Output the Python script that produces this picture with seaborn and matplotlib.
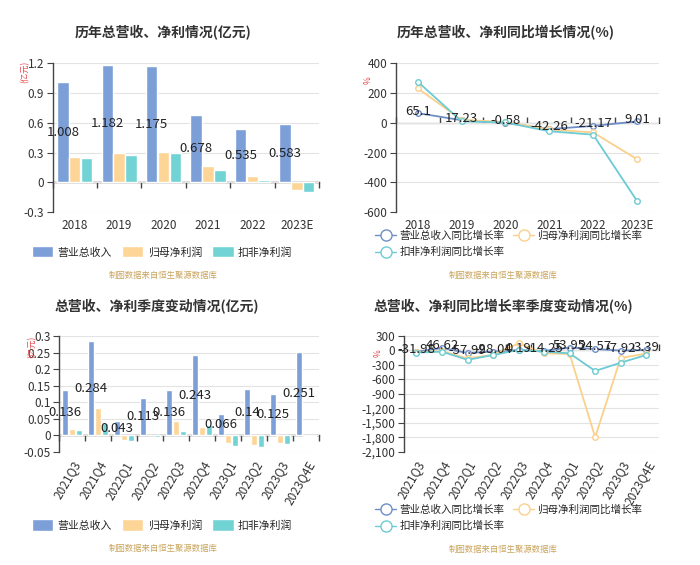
import numpy as np
import pandas as pd
import seaborn as sns
import matplotlib.pyplot as plt
from matplotlib.patches import Patch
from matplotlib.lines import Line2D
from matplotlib.ticker import FuncFormatter

# 数据
years = ['2018', '2019', '2020', '2021', '2022', '2023E']
rev_year = [1.008, 1.182, 1.175, 0.678, 0.535, 0.583]
np_year = [0.25, 0.296, 0.306, 0.162, 0.06, -0.081]
kf_year = [0.24, 0.273, 0.30, 0.121, 0.02, -0.098]

rev_yoy = [65.1, 17.23, -0.58, -42.26, -21.17, 9.01]
np_yoy = [232, 20, 5, -45, -65, -245]
kf_yoy = [277, 10, 2, -57, -80, -526]

quarters = ['2021Q3', '2021Q4', '2022Q1', '2022Q2', '2022Q3',
            '2022Q4', '2023Q1', '2023Q2', '2023Q3', '2023Q4E']
rev_q = [0.136, 0.284, 0.043, 0.113, 0.136, 0.243, 0.066, 0.14, 0.125, 0.251]
np_q = [0.018, 0.082, -0.014, 0.001, 0.043, 0.026, -0.024, -0.029, -0.024, -0.001]
kf_q = [0.015, 0.038, -0.016, -0.005, 0.014, 0.031, -0.032, -0.034, -0.026, -0.003]

rev_q_yoy = [-31.98, 46.62, -57.99, -28.04, 0.19, -14.25, 53.95, 24.57, -7.92, 3.39]
np_q_yoy = [-40, -20, -170, -95, 140, -65, -80, -1800, -160, -70]
kf_q_yoy = [-50, -30, -200, -100, 5, -30, -65, -430, -258, -100]

bar_names = ['营业总收入', '归母净利润', '扣非净利润']
line_names = ['营业总收入同比增长率', '归母净利润同比增长率', '扣非净利润同比增长率']
bar_colors = ['#7c9fd8', '#fdd597', '#72d3d4']
line_colors = ['#6f8ec8', '#fbd08c', '#6ccbd3']

sns.set_style('white')
plt.rcParams['font.family'] = ['Noto Sans CJK SC', 'DejaVu Sans']
plt.rcParams['axes.unicode_minus'] = False

W, H = 700, 565
fig = plt.figure(figsize=(7, 5.65), dpi=100)


def make_ax(x0, y0, x1, y1):
    return fig.add_axes([x0 / W, 1 - y1 / H, (x1 - x0) / W, (y1 - y0) / H])


def style_ax(ax, n, ylim, yticks, fmt, rot=0):
    ax.set_xlim(-0.5, n - 0.5)
    ax.set_ylim(*ylim)
    ax.set_yticks(yticks)
    ax.yaxis.set_major_formatter(FuncFormatter(fmt))
    ax.grid(axis='y', color='#e3e3e3', lw=0.8)
    ax.grid(axis='x', visible=False)
    ax.set_axisbelow(True)
    for s in ['top', 'right', 'bottom']:
        ax.spines[s].set_visible(False)
    ax.spines['left'].set_color('#444')
    ax.spines['left'].set_linewidth(1)
    ax.tick_params(axis='y', length=4, color='#444', labelsize=8.5,
                   labelcolor='#333', left=True, pad=2)
    ax.tick_params(axis='x', length=0, labelsize=8.5, labelcolor='#333', pad=5)
    ax.set_xlabel('')
    ax.set_ylabel('')
    if rot:
        plt.setp(ax.get_xticklabels(), rotation=rot, ha='right',
                 rotation_mode='anchor')
    # 零轴及分隔刻度
    frac = (0 - ylim[0]) / (ylim[1] - ylim[0])
    sec = ax.secondary_xaxis(frac)
    sec.set_xticks(np.arange(n + 1) - 0.5, labels=[])
    sec.tick_params(length=4, color='#444', width=1)
    sec.spines['bottom'].set_color('#444')
    sec.spines['bottom'].set_linewidth(1)


def bar_panel(ax, cats, rev, npr, kf):
    n = len(cats)
    df = pd.DataFrame({'period': cats * 3,
                       'value': rev + npr + kf,
                       'series': [bar_names[0]] * n + [bar_names[1]] * n + [bar_names[2]] * n})
    sns.barplot(data=df, x='period', y='value', hue='series', palette=bar_colors,
                saturation=1, width=0.8, gap=0.03, legend=False, errorbar=None, ax=ax)
    ax.bar_label(ax.containers[0], labels=[f'{v:g}' for v in rev],
                 label_type='center', fontsize=9.5, color='#222')


def line_panel(ax, cats, rev, npr, kf):
    for vals, c in zip([rev, npr, kf], line_colors):
        sns.lineplot(x=cats, y=vals, color=c, marker='o', markersize=4,
                     markerfacecolor='white', markeredgecolor=c, markeredgewidth=1,
                     linewidth=1.3, sort=False, ax=ax)
    for i, v in enumerate(rev):
        ax.annotate(f'{v:g}', (i, v), xytext=(0, 1.5), textcoords='offset points',
                    ha='center', va='center', fontsize=9.5, color='#222')


def bar_legend(ax, xc, yc):
    handles = [Patch(facecolor=c, label=l) for c, l in zip(bar_colors, bar_names)]
    ax.legend(handles=handles, loc='center', bbox_to_anchor=(xc / W, 1 - yc / H),
              bbox_transform=fig.transFigure, ncol=3, frameon=False, fontsize=7.8,
              handlelength=2.0, handleheight=1.2, handletextpad=0.4,
              columnspacing=0.9)


def line_legend(ax, x0, ytop):
    h = [Line2D([0], [0], color=c, marker='o', markersize=8, markerfacecolor='white',
                lw=1.0, label=l) for c, l in zip(line_colors, line_names)]
    ax.legend(handles=[h[0], h[2], h[1]], loc='upper left',
              bbox_to_anchor=(x0 / W, 1 - ytop / H), bbox_transform=fig.transFigure,
              ncol=2, frameon=False, fontsize=7.6, handlelength=2.0,
              handletextpad=0.3, columnspacing=0.8, labelspacing=0.6,
              borderpad=0)


def num_fmt(v, _):
    return f'{v:g}'


def int_fmt(v, _):
    return f'{v:,.0f}'


# 左上
ax1 = make_ax(52.5, 63.3, 319, 212)
bar_panel(ax1, years, rev_year, np_year, kf_year)
style_ax(ax1, len(years), (-0.3, 1.2), np.arange(-0.3, 1.21, 0.3), num_fmt)
bar_legend(ax1, 162, 252)

# 右上
ax2 = make_ax(395.7, 63.3, 659, 212)
line_panel(ax2, years, rev_yoy, np_yoy, kf_yoy)
style_ax(ax2, len(years), (-600, 400), np.arange(-600, 401, 200), int_fmt)
line_legend(ax2, 370, 225)

# 左下
ax3 = make_ax(59, 336, 319, 452)
bar_panel(ax3, quarters, rev_q, np_q, kf_q)
style_ax(ax3, len(quarters), (-0.05, 0.3), np.arange(-0.05, 0.301, 0.05), num_fmt, rot=60)
bar_legend(ax3, 162, 525)

# 右下
ax4 = make_ax(403.7, 335.7, 659, 451.7)
line_panel(ax4, quarters, rev_q_yoy, np_q_yoy, kf_q_yoy)
style_ax(ax4, len(quarters), (-2100, 300), np.arange(-2100, 301, 300), int_fmt, rot=60)
line_legend(ax4, 370, 499)

# 标题、单位、来源
titles = [(163, 33, '历年总营收、净利情况(亿元)'),
          (506, 33, '历年总营收、净利同比增长情况(%)'),
          (157, 307, '总营收、净利季度变动情况(亿元)'),
          (503, 307, '总营收、净利同比增长率季度变动情况(%)')]
for x, y, t in titles:
    fig.text(x / W, 1 - y / H, t, ha='center', va='center', fontsize=10,
             fontweight='bold', color='#333')

units = [(25, 72, '(亿元)'), (368, 80, '%'), (32, 347, '(亿元)'), (378, 353, '%')]
for x, y, t in units:
    fig.text(x / W, 1 - y / H, t, ha='center', va='center', fontsize=6,
             rotation=90, color='#e8474c')

for x, y in [(163, 275), (503, 275), (163, 548), (503, 549)]:
    fig.text(x / W, 1 - y / H, '制图数据来自恒生聚源数据库', ha='center',
             va='center', fontsize=6, color='#c9a45c')

fig.savefig('out.png', dpi=100)
